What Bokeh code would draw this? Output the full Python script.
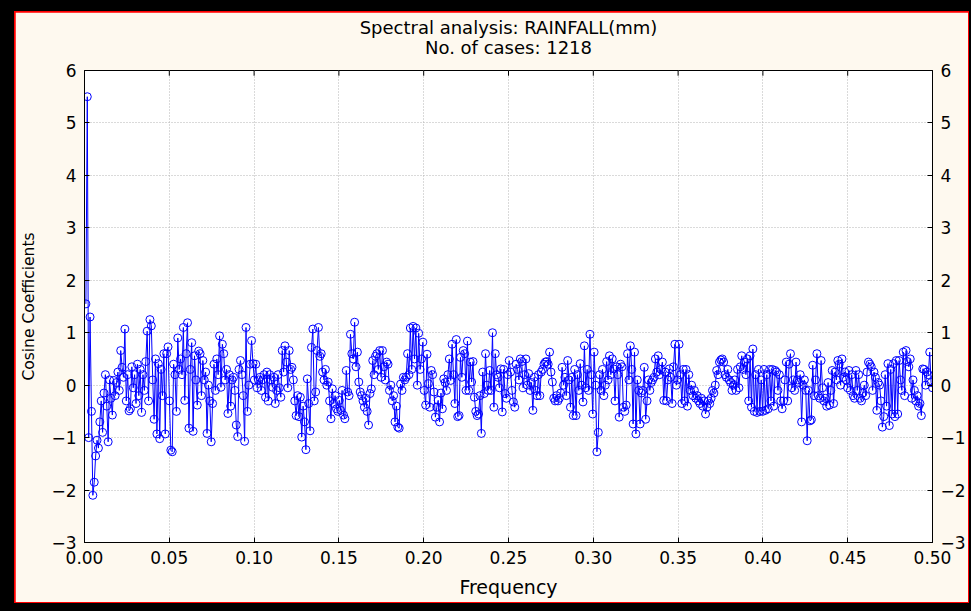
from bokeh.plotting import figure
from bokeh.models import Range1d, LinearAxis, FixedTicker, NumeralTickFormatter, ColumnDataSource
from bokeh.layouts import column
from bokeh.embed import file_html
from bokeh.resources import INLINE

N_CASES = 1218
TITLE_1 = "Spectral analysis: RAINFALL(mm)"
TITLE_2 = "No. of cases: 1218"
X_LABEL = "Frequency"
Y_LABEL = "Cosine Coefficients"

x_ticks = [0.00, 0.05, 0.10, 0.15, 0.20, 0.25, 0.30, 0.35, 0.40, 0.45, 0.50]
y_ticks = [-3, -2, -1, 0, 1, 2, 3, 4, 5, 6]

# cosine coefficients, frequency index 1..609
coef_a = [1.55, 5.5, -1.0, 1.3, -0.5, -2.1, -1.85, -1.35, -1.05, -1.2,
          -0.7, -0.3, -0.9, -0.15, 0.2, -0.4, -1.08, 0.1, -0.25, -0.57,
          0.09, -0.2, 0.05, 0.25, -0.1, 0.66, 0.34, 0.15, 1.07, -0.3,
          0.2, -0.49, -0.45, 0.35, -0.05, 0.2, -0.35, 0.4, -0.2, 0.3,
          -0.52, 0.2, -0.1, 0.45, 1.03, -0.3, 1.25, 1.13, 0.1, -0.65,
          0.5, -0.93, 0.41, -1.02, 0.3, -0.2, 0.6, -0.93, 0.6, 0.73,
          -0.3, -1.24]
coef_b = [-1.27, 0.4, 0.2, -0.5, 0.9, 0.3, 0.5, 0.2, 1.1, -0.29,
          0.6, 1.19, -0.82, 0.3, 0.81, -0.88, 0.56, 0.1, -0.38, 0.65,
          0.6, -0.2, 0.47, 0.1, 0.25, -0.92, 0.0, -0.3, -1.08, -0.35,
          0.4, -0.1, 0.5, 0.2, 0.94, -0.04, 0.78, 0.6, 0.1, 0.3,
          -0.54, 0.2, -0.4, 0.1, 0.15, -0.1, -0.76, -0.98, 0.3, 0.47,
          0.2, -0.2, -1.07, 1.1, -0.5, 0.0, 0.4, 0.85, 0.41, 0.1]
coef_c = [0.4, -0.05, 0.1, 0.15, -0.1, 0.1, 0.2, -0.23, 0.25, -0.3,
          0.2, 0.1, -0.04, 0.15, -0.35, -0.1, 0.2, -0.05, -0.23, 0.66,
          0.25, 0.75, 0.44, -0.05, 0.66, 0.3, 0.34, 0.1, -0.3, -0.58,
          -0.2, -0.6, -0.23, -0.99, -0.4, -0.7, -1.23, 0.12, -0.35, -0.87,
          0.72, 1.07, -0.3, -0.13, 0.66, 1.1, 0.55, 0.6, 0.25, 0.1,
          0.3, 0.0, 0.06, -0.3, -0.64, -0.07, -0.35, -0.2, -0.45, -0.5]
coef_d = [-0.29, -0.48, -0.1, -0.57, -0.64, 0.28, -0.13, -0.2, 0.97, 0.6,
          0.5, 1.2, 0.35, 0.63, 0.06, -0.13, -0.2, -0.3, -0.42, -0.25,
          -0.5, -0.76, -0.16, -0.07, 0.47, 0.2, 0.55, 0.6, 0.3, 0.66,
          0.15, 0.66, 0.35, 0.1, 0.44, 0.4, -0.1, 0.0, -0.3, -0.2,
          -0.7, -0.4, -0.8, -0.82, 0.02, -0.1, 0.15, 0.1, 0.15, 0.6,
          0.2, 1.09, 0.3, 1.12, 0.5, 1.09, 0.0, 0.99, 0.3, 0.5,
          0.82, -0.1, -0.38]
coef_e = [0.59, 0.03, -0.42, 0.28, 0.2, -0.13, -0.61, -0.42, -0.29, -0.7,
          -0.15, -0.45, 0.12, 0.05, -0.1, 0.2, 0.5, 0.09, 0.78, 0.2,
          -0.35, 0.87, -0.6, -0.58, 0.53, 0.15, 0.66, 0.6, -0.1, 0.84,
          -0.1, 0.44, 0.06, 0.45, -0.23, -0.5, -0.58, -0.55, -0.2, -0.92,
          0.25, -0.16, 0.6, 0.0, -0.1, 0.28, -0.1, 1.0, -0.42, 0.6,
          0.2, 0.15, -0.05, 0.31, -0.51, 0.3, -0.16, -0.25, 0.2, 0.47,
          0.25]
coef_f = [-0.1, -0.32, -0.42, 0.4, 0.3, 0.1, 0.5, 0.45, -0.05, 0.2,
          0.5, 0.0, 0.22, -0.1, 0.05, -0.48, 0.15, -0.1, -0.2, 0.2,
          -0.2, 0.25, 0.3, 0.4, 0.44, 0.45, 0.4, 0.63, 0.25, 0.06,
          -0.25, -0.3, -0.2, -0.3, -0.25, -0.15, 0.34, 0.0, 0.15, -0.2,
          0.47, 0.1, -0.42, 0.15, -0.58, 0.3, -0.58, 0.2, -0.1, 0.41,
          0.0, -0.32, 0.75, -0.05, 0.3, -0.1, 0.97, 0.2, -0.55, 0.63,
          0.0, -1.27, -0.9]
coef_g = [0.2, -0.1, 0.3, -0.2, 0.0, 0.45, 0.1, 0.56, 0.2, 0.5,
          0.31, -0.3, 0.35, 0.2, -0.61, 0.4, 0.35, -0.42, -0.5, -0.38,
          0.6, 0.1, 0.75, 0.3, -0.74, 0.63, -0.93, 0.1, -0.1, -0.74,
          -0.15, -0.1, 0.34, -0.65, -0.3, 0.1, -0.1, 0.05, 0.1, 0.15,
          0.5, 0.25, 0.56, 0.2, 0.3, 0.44, -0.29, 0.25, -0.3, 0.1,
          0.31, 0.15, -0.35, 0.35, 0.78, 0.0, 0.1, 0.78, 0.2, -0.35]
coef_h = [0.3, -0.3, 0.3, -0.4, 0.2, -0.1, 0.0, -0.2, -0.1, -0.25,
          -0.2, -0.3, -0.35, -0.25, -0.4, -0.3, -0.55, -0.42, -0.3, -0.35,
          -0.25, -0.1, -0.15, 0.0, 0.28, 0.2, 0.44, 0.48, 0.5, 0.44,
          0.2, 0.15, 0.3, 0.1, 0.05, -0.1, 0.0, 0.1, -0.1, 0.3,
          -0.05, 0.35, 0.56, 0.3, 0.44, 0.2, 0.5, -0.3, 0.56, -0.42,
          0.69, -0.5, 0.2, -0.52, 0.3, -0.5, 0.1, -0.5, 0.3, -0.48,
          0.2, -0.45, 0.3, -0.3]
coef_i = [0.3, -0.4, 0.28, 0.25, -0.1, 0.2, -0.3, -0.45, -0.3, 0.1,
          0.44, -0.3, 0.4, 0.6, -0.05, 0.1, -0.1, 0.44, 0.1, 0.05,
          0.2, -0.7, 0.0, 0.1, -0.1, -1.06, -0.1, -0.68, -0.66, 0.38,
          -0.2, 0.1, 0.6, -0.2, -0.25, 0.47, -0.05, -0.3, -0.25, -0.4,
          0.05, -0.38, -0.1, 0.28, -0.35, 0.25, 0.1, 0.47, 0.4, 0.0,
          0.5, 0.15, 0.25, 0.1, -0.05, 0.28, -0.1, 0.2, -0.2, -0.25]
coef_j = [0.28, -0.1, 0.2, -0.25, -0.3, -0.15, 0.0, -0.2, 0.25, 0.44,
          0.4, 0.35, -0.1, 0.25, 0.15, -0.48, 0.05, 0.0, -0.3, -0.8,
          -0.6, 0.2, -0.4, 0.41, -0.77, 0.3, -0.55, 0.41, -0.6, 0.47,
          -0.55, 0.47, 0.1, -0.1, 0.63, -0.2, 0.66, 0.45, 0.35, 0.5,
          -0.25, 0.1, -0.1, -0.3, -0.2, -0.4, -0.35, -0.58, 0.31, 0.3,
          0.0, 0.25, 0.2, 0.63, 0.05, -0.05]

coef = coef_a + coef_b + coef_c + coef_d + coef_e + coef_f + coef_g + coef_h + coef_i + coef_j
freq = [(i + 1) / N_CASES for i in range(len(coef))]
src = ColumnDataSource(data=dict(freq=freq, coef=coef))

FONT = "DejaVu Sans"
CREAM = "#FEF9EF"
BLUE = "#0000FF"
X_MIN, X_MAX = 0.0, 0.5
Y_MIN, Y_MAX = -3, 6

p = figure(width=953, height=590, x_range=Range1d(X_MIN, X_MAX), y_range=Range1d(Y_MIN, Y_MAX),
           output_backend="svg", toolbar_location=None, title=None,
           min_border_left=69, min_border_right=35, min_border_top=58, min_border_bottom=60,
           background_fill_color="white", border_fill_color=CREAM,
           outline_line_color="black", outline_line_width=1)

p.line("freq", "coef", source=src, line_color=BLUE, line_width=1)
p.scatter("freq", "coef", source=src, marker="circle", size=8, fill_color=None,
          line_color=BLUE, line_width=1)


def style_axis(ax, ticks, label_size="17px"):
    ax.ticker = FixedTicker(ticks=ticks)
    ax.major_tick_in = 5
    ax.major_tick_out = 0
    ax.minor_tick_line_color = None
    ax.axis_line_color = "black"
    ax.major_tick_line_color = "black"
    ax.major_label_text_font = FONT
    ax.major_label_text_color = "black"
    ax.major_label_standoff = 8
    ax.major_label_text_font_size = label_size


xb = p.xaxis[0]
style_axis(xb, x_ticks)
xb.formatter = NumeralTickFormatter(format="0.00")
xb.axis_label = X_LABEL
xb.axis_label_text_font = FONT
xb.axis_label_text_font_size = "19px"
xb.axis_label_text_font_style = "normal"
xb.axis_label_text_color = "black"
xb.axis_label_standoff = 9

yl = p.yaxis[0]
style_axis(yl, y_ticks)
yl.axis_label = Y_LABEL
yl.axis_label_text_font = FONT
yl.axis_label_text_font_size = "15.5px"
yl.axis_label_text_font_style = "normal"
yl.axis_label_text_color = "black"
yl.axis_label_standoff = 10

yr = LinearAxis()
style_axis(yr, y_ticks)
p.add_layout(yr, "right")

# inward tick marks along the top edge of the frame
tick_len = 0.1
p.segment(x0=x_ticks, y0=[Y_MAX] * len(x_ticks), x1=x_ticks,
          y1=[Y_MAX - tick_len] * len(x_ticks), line_color="black", line_width=1)

for g, t in ((p.xgrid[0], x_ticks), (p.ygrid[0], y_ticks)):
    g.ticker = FixedTicker(ticks=t)
    g.grid_line_color = "#b4b4b4"
    g.grid_line_dash = "1 2"
    g.grid_line_width = 1

# the two centred title lines, carried by tick-less axes stacked above the frame
for txt, standoff in ((TITLE_2, 13), (TITLE_1, -4)):
    ax = LinearAxis(ticker=FixedTicker(ticks=[]), axis_label=txt)
    ax.axis_line_color = None
    ax.major_tick_line_color = None
    ax.minor_tick_line_color = None
    ax.major_label_standoff = 0
    ax.major_tick_out = 0
    ax.major_tick_in = 0
    ax.axis_label_standoff = standoff
    ax.axis_label_text_font = FONT
    ax.axis_label_text_font_size = "18px"
    ax.axis_label_text_font_style = "normal"
    ax.axis_label_text_color = "black"
    p.add_layout(ax, "above")

inner = column(p, styles={"background-color": "red", "padding": "1px"})
root = column(inner, styles={"background-color": "black", "padding": "11px 2px 8px 14px"})

open("out.html", "w").write(file_html(root, INLINE))
